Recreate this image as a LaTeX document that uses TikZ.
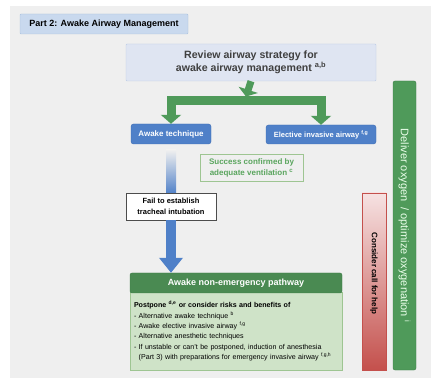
\documentclass[tikz,border=0pt]{standalone}
\usepackage{fontspec}
\setmainfont{Liberation Sans}
\usetikzlibrary{arrows.meta}
\definecolor{bgpanel}{HTML}{EFEFEF}
\definecolor{titlefill}{HTML}{C9D9EE}
\definecolor{titleline}{HTML}{A9C1DE}
\definecolor{reviewfill}{HTML}{DFE5F2}
\definecolor{reviewline}{HTML}{BCCBE6}
\definecolor{blueA}{HTML}{4F80C8}
\definecolor{blueB}{HTML}{3E6DB3}
\definecolor{greenA}{HTML}{4F9A5A}
\definecolor{greenB}{HTML}{3D7C47}
\definecolor{greenC}{HTML}{4A8A52}
\definecolor{greenD}{HTML}{CFE3C8}
\definecolor{greenE}{HTML}{9EC592}
\definecolor{greenT}{HTML}{5AA55E}
\definecolor{redA}{HTML}{C4504C}
\definecolor{redB}{HTML}{F6E2E2}
\begin{document}
\begin{tikzpicture}[x=1pt,y=-1pt,line join=miter,
	box/.style={inner sep=0pt,align=center},
	bluebox/.style={box,fill=blueA,draw=blueB,rounded corners=2.5pt,text=white,font=\bfseries\fontsize{8}{10}\selectfont},
	fork/.style={draw=greenA,line width=9pt,{Triangle[width=20pt,length=9pt]}-{Triangle[width=20pt,length=9pt]}},
	]
	\useasboundingbox (0,0) rectangle (431,379);
	\fill[bgpanel] (10,6) rectangle (431,378);
	% header and strategy
	\node[box,fill=titlefill,draw=titleline,rounded corners=1pt,minimum width=168pt,minimum height=20pt,font=\bfseries\fontsize{9}{11}\selectfont] (title) at (104,24) {Part 2: Awake Airway Management};
	\node[box,fill=reviewfill,draw=reviewline,rounded corners=1pt,minimum width=250pt,minimum height=37pt,text=black!75,font=\bfseries\fontsize{10.6}{13.5}\selectfont] (review) at (251,62.5) {Review airway strategy for\\ awake airway management \textsuperscript{a,b}};
	\node[bluebox,minimum width=80pt,minimum height=20pt] (awake) at (171,134) {Awake technique};
	\node[bluebox,minimum width=110pt,minimum height=19pt,font=\bfseries\fontsize{7.5}{9}\selectfont] (elective) at (321,134.5) {Elective invasive airway \textsuperscript{f,g}};
	\coordinate (bar) at (246,100.5);
	\draw[fork] (awake.north) |- (bar) -| (elective.north);
	\draw[draw=greenA,line width=7pt,-{Triangle[width=20pt,length=7pt]}] (review.south) -- ([yshift=4pt]bar);
	% outcomes
	\node[box,draw=greenE,text=greenT,minimum width=103pt,minimum height=27pt,font=\bfseries\fontsize{8}{11}\selectfont] (success) at (251.5,167.5) {Success confirmed by\\ adequate ventilation \textsuperscript{c}};
	\node[box,fill=greenD,draw=greenE,minimum width=212pt,minimum height=78pt,align=left,text width=204pt,font=\fontsize{7.1}{10.3}\selectfont] (body) at (236,331) {\textbf{Postpone \textsuperscript{d,e} or consider risks and benefits of}\\
		- Alternative awake technique \textsuperscript{b}\\
		- Awake elective invasive airway \textsuperscript{f,g}\\
		- Alternative anesthetic techniques\\
		- If unstable or can't be postponed, induction of anesthesia\\
		\hphantom{- }(Part 3) with preparations for emergency invasive airway \textsuperscript{f,g,h}};
	\node[box,fill=greenC,draw=greenB,rounded corners=2pt,minimum width=212pt,minimum height=20pt,text=white,font=\bfseries\fontsize{9}{11}\selectfont] (pathway) at (236,283) {Awake non-emergency pathway};
	\shade[top color=bgpanel,bottom color=blueA] (166,150) rectangle (176,194);
	\node[box,fill=white,draw=black!70,minimum width=90pt,minimum height=27pt,font=\bfseries\fontsize{7.5}{11}\selectfont] (fail) at (171,206.5) {Fail to establish\\ tracheal intubation};
	\draw[draw=blueA,line width=10pt,-{Triangle[width=23pt,length=15pt]}] (fail.south) -- (fail.south |- pathway.north);
	% side bars
	\shade[top color=redB,bottom color=redA] (362,193) rectangle (386,370);
	\node[box,rotate=-90,draw=redA,minimum width=177pt,minimum height=24pt,font=\bfseries\fontsize{8}{10}\selectfont] (help) at (374,281.5) {Consider call for help\hspace{16pt}};
	\node[box,rotate=-90,fill=greenA,draw=greenB,rounded corners=2pt,minimum width=289pt,minimum height=23pt,text=green!8,font=\fontsize{11}{12}\selectfont] (oxygen) at (404.5,225.5) {Deliver oxygen \ / optimize oxygenation \textsuperscript{i}};
\end{tikzpicture}
\end{document}
